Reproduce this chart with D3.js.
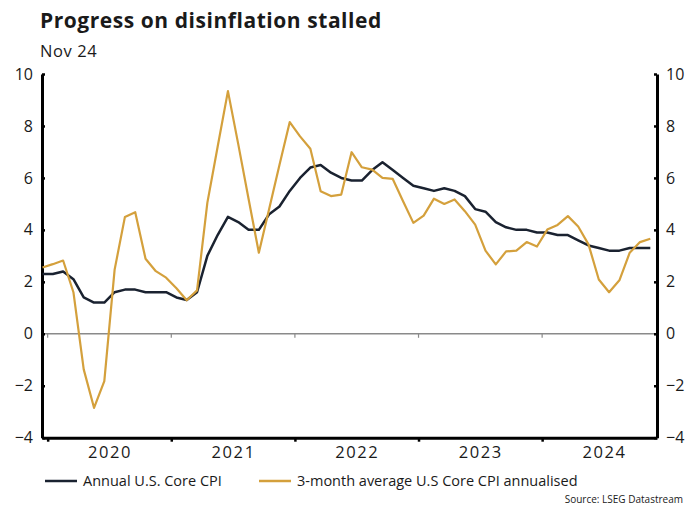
<!DOCTYPE html>
<html>
<head>
<meta charset="utf-8">
<script src="https://cdn.jsdelivr.net/npm/d3@7"></script>
<style>
  body { margin: 0; background: #fff; }
  text { font-family: "Open Sans", sans-serif; fill: #1a1a1a; }
</style>
</head>
<body>
<div id="container"></div>
<script>
// monthly, Dec 2019 .. Nov 2024
var months = d3.timeMonth.range(new Date(2019, 11, 1), new Date(2024, 11, 1));

var annualCore = [2.3, 2.3, 2.4, 2.1, 1.4, 1.2, 1.2, 1.6, 1.7, 1.7, 1.6, 1.6,
  1.6, 1.4, 1.3, 1.6, 3.0, 3.8, 4.5, 4.3, 4.0, 4.0, 4.6, 4.9,
  5.5, 6.0, 6.4, 6.5, 6.2, 6.0, 5.9, 5.9, 6.3, 6.6, 6.3, 6.0,
  5.7, 5.6, 5.5, 5.6, 5.5, 5.3, 4.8, 4.7, 4.3, 4.1, 4.0, 4.0,
  3.9, 3.9, 3.8, 3.8, 3.6, 3.4, 3.3, 3.2, 3.2, 3.3, 3.3, 3.3];

var threeMonthAnn = [2.55, 2.68, 2.82, 1.6, -1.37, -2.85, -1.82, 2.47, 4.5, 4.68, 2.89, 2.41,
  2.16, 1.75, 1.29, 1.67, 5.04, 7.2, 9.34, 7.3, 5.2, 3.12, 4.8, 6.5,
  8.15, 7.6, 7.12, 5.49, 5.3, 5.36, 6.99, 6.41, 6.32, 6.0, 5.96, 5.1,
  4.27, 4.55, 5.2, 5.0, 5.17, 4.72, 4.2, 3.2, 2.67, 3.17, 3.2, 3.53,
  3.36, 4.01, 4.19, 4.53, 4.13, 3.44, 2.09, 1.6, 2.06, 3.12, 3.53, 3.66];

var yTicks = [-4, -2, 0, 2, 4, 6, 8, 10];
var yearLabels = ['2020', '2021', '2022', '2023', '2024'];
var yearBreaks = [0.5, 12.5, 24.5, 36.5, 48.5];   // between Dec and Jan
var yearMids = [6.5, 18.5, 30.5, 42.5, 54.5];

var seriesNames = ['Annual U.S. Core CPI', '3-month average U.S Core CPI annualised'];
var seriesColors = ['#1a2230', '#d4a03c'];

var svg = d3.select('#container').append('svg')
  .attr('width', 700)
  .attr('height', 509);

var x = d3.scaleLinear().domain([-0.05, 59.65]).range([42, 657]);
var y = d3.scaleLinear().domain([-4, 10]).range([437.7, 74]);

// title + date
svg.append('text')
  .attr('x', 40).attr('y', 28)
  .style('font-size', '21px').style('font-weight', 700)
  .style('letter-spacing', '0.55px')
  .text('Progress on disinflation stalled');
svg.append('text')
  .attr('x', 40).attr('y', 57)
  .style('font-size', '16.5px')
  .style('letter-spacing', '0.6px')
  .text('Nov 24');

// zero line with its small ticks
svg.append('line')
  .attr('x1', x.range()[0]).attr('x2', x.range()[1])
  .attr('y1', y(0)).attr('y2', y(0))
  .attr('stroke', '#8a8a8a').attr('stroke-width', 1.5);
svg.selectAll('.zero-tick')
  .data(yearBreaks)
  .enter()
  .append('line')
  .attr('class', 'zero-tick')
  .attr('x1', function(d) { return x(d); }).attr('x2', function(d) { return x(d); })
  .attr('y1', y(0)).attr('y2', y(0) + 4)
  .attr('stroke', '#8a8a8a').attr('stroke-width', 1.2);

var styleAxis = function(g) {
  g.select('.domain').attr('stroke', '#000').attr('stroke-width', 3);
  g.selectAll('.tick line').attr('stroke', '#000').attr('stroke-width', 2.5);
  g.selectAll('.tick text')
    .style('font-family', '"Open Sans", sans-serif')
    .style('font-size', '16px')
    .attr('fill', '#1a1a1a');
};

// left / right value axes
svg.append('g')
  .attr('transform', 'translate(' + x.range()[0] + ',0)')
  .call(d3.axisLeft(y).tickValues(yTicks).tickSize(-3).tickSizeOuter(0).tickPadding(9))
  .call(styleAxis);

svg.append('g')
  .attr('transform', 'translate(' + x.range()[1] + ',0)')
  .call(d3.axisRight(y).tickValues(yTicks).tickSize(-3).tickSizeOuter(0).tickPadding(9))
  .call(styleAxis);

// bottom axis: year breaks as ticks, year labels centred between them
svg.append('g')
  .attr('transform', 'translate(0,' + y.range()[0] + ')')
  .call(d3.axisBottom(x).tickValues(yearBreaks).tickFormat('').tickSize(4).tickSizeOuter(0))
  .call(styleAxis);

svg.append('g')
  .attr('class', 'year-labels')
  .attr('transform', 'translate(0,' + y.range()[0] + ')')
  .call(d3.axisBottom(x).tickValues(yearMids)
    .tickFormat(function(d, i) { return yearLabels[i]; })
    .tickSize(0).tickPadding(9))
  .call(function(g) {
    g.select('.domain').remove();
    g.selectAll('.tick text')
      .style('font-family', '"Open Sans", sans-serif')
      .style('font-size', '16.5px')
      .style('letter-spacing', '1.6px')
      .attr('fill', '#1a1a1a');
  });

// the two lines
var line = d3.line()
  .x(function(d, i) { return x(i); })
  .y(function(d) { return y(d); });

svg.append('path')
  .datum(annualCore)
  .attr('fill', 'none')
  .attr('stroke', seriesColors[0])
  .attr('stroke-width', 2.5)
  .attr('stroke-linejoin', 'round')
  .attr('d', line);

svg.append('path')
  .datum(threeMonthAnn)
  .attr('fill', 'none')
  .attr('stroke', seriesColors[1])
  .attr('stroke-width', 2.2)
  .attr('stroke-linejoin', 'round')
  .attr('d', line);

// legend
var legendX = [45, 259];
var legend = svg.selectAll('.legend')
  .data(seriesNames)
  .enter()
  .append('g')
  .attr('class', 'legend')
  .attr('transform', function(d, i) { return 'translate(' + legendX[i] + ',481)'; });

legend.append('line')
  .attr('x1', 0).attr('x2', 32)
  .attr('stroke', function(d, i) { return seriesColors[i]; })
  .attr('stroke-width', 2.5);

legend.append('text')
  .attr('x', 38).attr('y', 5)
  .style('font-size', '14.5px')
  .text(function(d) { return d; });

// source
svg.append('text')
  .attr('x', 683).attr('y', 503)
  .attr('text-anchor', 'end')
  .style('font-size', '10px')
  .text('Source: LSEG Datastream');
</script>
</body>
</html>
